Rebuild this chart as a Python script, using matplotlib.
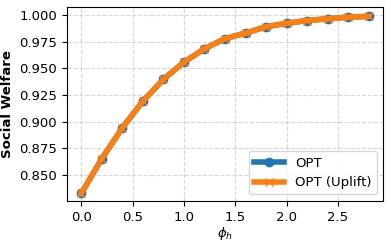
import matplotlib
matplotlib.use('Agg')
import matplotlib.pyplot as plt
from matplotlib.ticker import MultipleLocator, FormatStrFormatter

# data
phi_h = [0.0, 0.2, 0.4, 0.6, 0.8, 1.0, 1.2, 1.4, 1.6, 1.8, 2.0, 2.2, 2.4, 2.6, 2.8]
welfare_opt = [0.8326, 0.8652, 0.8942, 0.9192, 0.9397, 0.9558, 0.9684, 0.9779,
               0.9831, 0.9891, 0.9923, 0.9949, 0.9965, 0.9981, 0.9988]
welfare_uplift = list(welfare_opt)

plt.rcParams['font.size'] = 9.5

fig = plt.figure(figsize=(3.91, 2.44), dpi=100)
ax = fig.add_axes([0.171, 0.176, 0.809, 0.795])

ax.plot(phi_h, welfare_opt, color='#1f77b4', marker='o', linewidth=4,
        markersize=6, label='OPT')
ax.plot(phi_h, welfare_uplift, color='#ff7f0e', marker='x', linewidth=4,
        markersize=6, label='OPT (Uplift)')

ax.set_ylim(0.8255, 1.0075)
ax.yaxis.set_major_locator(MultipleLocator(0.025))
ax.yaxis.set_major_formatter(FormatStrFormatter('%.3f'))
ax.set_xlabel(r'$\phi_h$', labelpad=1)
ax.set_ylabel('Social Welfare', fontweight='bold')
ax.grid(True, linestyle='--', alpha=0.5)
ax.legend(loc='lower right', handlelength=2.3)

fig.savefig('out.png', dpi=100)
